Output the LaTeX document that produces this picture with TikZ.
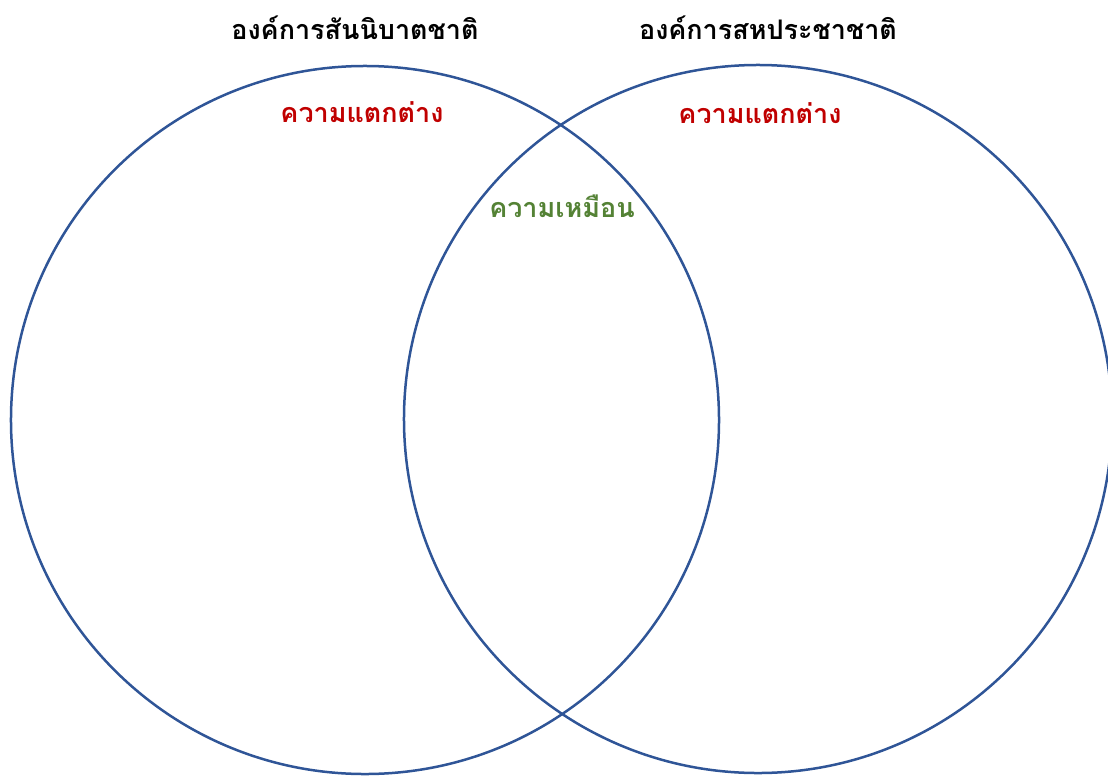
\documentclass[tikz,border=0pt]{standalone}
\usepackage{fontspec}
\newfontfamily\thaifont[Script=Thai]{Loma}
\usepackage{xcolor}
\usetikzlibrary{positioning}
\definecolor{vennblue}{HTML}{2F5597}
\definecolor{diffred}{HTML}{C00000}
\definecolor{samegreen}{HTML}{548235}

\begin{document}
\begin{tikzpicture}[x=0.03cm,y=-0.03cm,line width=0.075cm,
  venn/.style={circle,draw=vennblue,minimum size=21.24cm,inner sep=0pt},
  title/.style={font=\thaifont\bfseries\fontsize{23}{27}\selectfont,text=black},
  diff/.style={font=\thaifont\bfseries\fontsize{23}{27}\selectfont,text=diffred},
  same/.style={font=\thaifont\bfseries\fontsize{23}{27}\selectfont,text=samegreen}]
  \useasboundingbox (0,0) rectangle (1108,777);
  \node[venn] 		(L) at (365,420) 		{};
  \node[venn] 		(R) at (758,419) 		{};

  \node[title] 		(LT) at (355,28) 		{องค์การสันนิบาตชาติ};
  \node[title] 		(RT) at (768,28) 		{องค์การสหประชาชาติ};
  \node[diff] 		(LD) at (362,112) 		{ความแตกต่าง};
  \node[diff] 		(RD) at (760,113) 		{ความแตกต่าง};
  \node[same] 		(S) at (562,206) 		{ความเหมือน};
\end{tikzpicture}
\end{document}
